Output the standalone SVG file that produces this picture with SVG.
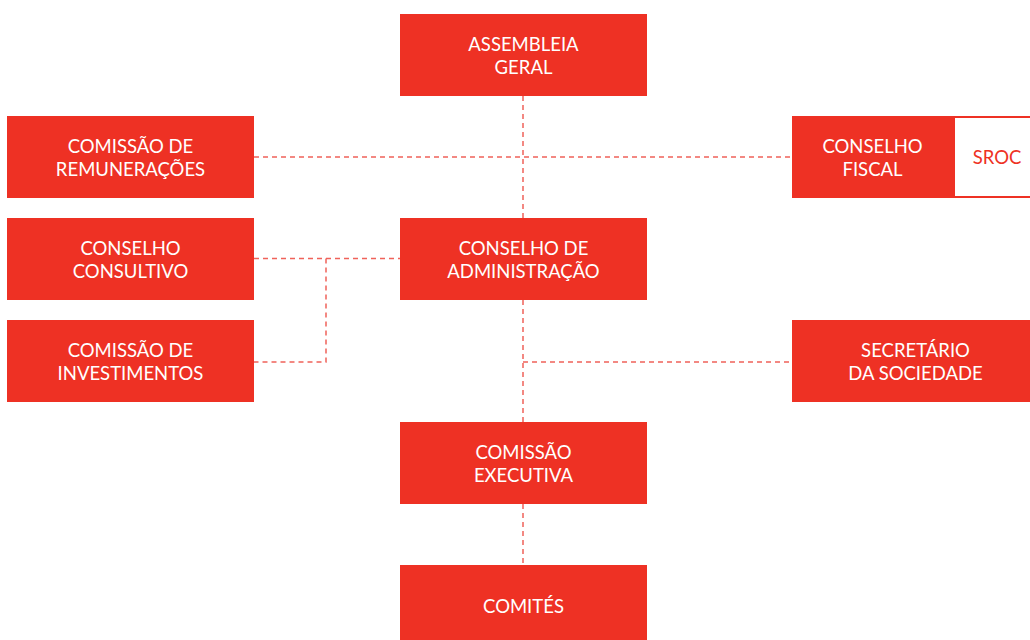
<svg xmlns="http://www.w3.org/2000/svg" width="1030" height="640" viewBox="0 0 1030 640">
<style>
.b{fill:#ee3124}
.t{fill:#fff;font-family:Lato,"Open Sans",sans-serif;font-size:18.5px;text-anchor:middle}
.r{fill:#ee3124;font-family:Lato,"Open Sans",sans-serif;font-size:18.5px;text-anchor:middle}
.c{fill:none;stroke:#f0625a;stroke-width:1.5;stroke-dasharray:5 4}
</style>
<rect width="1030" height="640" fill="#fff"/>
<g id="connectors">
<path class="c" d="M523 96V218"/>
<path class="c" d="M254 157H792"/>
<path class="c" d="M254 258.5H400"/>
<path class="c" d="M326 258.5V362H254"/>
<path class="c" d="M523 300V422"/>
<path class="c" d="M523 362H792"/>
<path class="c" d="M523 504V565"/>
</g>
<g id="assembleia"><rect class="b" x="400" y="14" width="247" height="82"/><text class="t" x="523.5" y="51">ASSEMBLEIA</text><text class="t" x="523.5" y="74">GERAL</text></g>
<g id="remuneracoes"><rect class="b" x="7" y="116" width="247" height="82"/><text class="t" x="130.5" y="153">COMISSÃO DE</text><text class="t" x="130.5" y="176">REMUNERAÇÕES</text></g>
<g id="fiscal"><rect class="b" x="792" y="116" width="161" height="82"/><text class="t" x="872.5" y="153">CONSELHO</text><text class="t" x="872.5" y="176">FISCAL</text></g>
<g id="sroc"><rect x="954" y="117" width="90" height="80" fill="#fff" stroke="#ee3124" stroke-width="2"/><text class="r" x="997" y="164">SROC</text></g>
<g id="consultivo"><rect class="b" x="7" y="218" width="247" height="82"/><text class="t" x="130.5" y="255">CONSELHO</text><text class="t" x="130.5" y="278">CONSULTIVO</text></g>
<g id="administracao"><rect class="b" x="400" y="218" width="247" height="82"/><text class="t" x="523.5" y="255">CONSELHO DE</text><text class="t" x="523.5" y="278">ADMINISTRAÇÃO</text></g>
<g id="investimentos"><rect class="b" x="7" y="320" width="247" height="82"/><text class="t" x="130.5" y="357">COMISSÃO DE</text><text class="t" x="130.5" y="380">INVESTIMENTOS</text></g>
<g id="secretario"><rect class="b" x="792" y="320" width="247" height="82"/><text class="t" x="915.5" y="357">SECRETÁRIO</text><text class="t" x="915.5" y="380">DA SOCIEDADE</text></g>
<g id="executiva"><rect class="b" x="400" y="422" width="247" height="82"/><text class="t" x="523.5" y="459">COMISSÃO</text><text class="t" x="523.5" y="482">EXECUTIVA</text></g>
<g id="comites"><rect class="b" x="400" y="565" width="247" height="82"/><text class="t" x="523.5" y="613">COMITÉS</text></g>
</svg>
